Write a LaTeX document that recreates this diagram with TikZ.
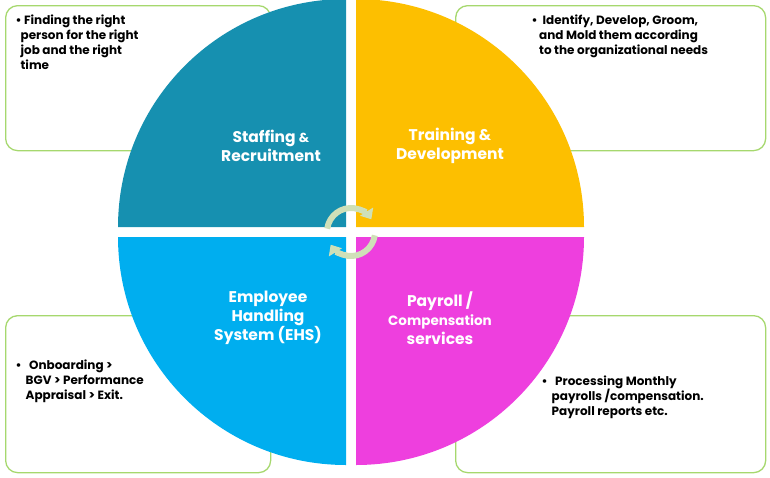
\documentclass[tikz,border=0pt]{standalone}
\usepackage{fontspec}
\setmainfont{Poppins}
\usetikzlibrary{arrows.meta}
\begin{document}
\begin{tikzpicture}[x=1pt,y=1pt,
  box/.style={draw=bordergreen, fill=white, line width=1.3pt, rounded corners=12pt},
  title/.style={text=white, font=\bfseries\fontsize{15.5}{19}\selectfont, align=center},
  txt/.style={font=\bfseries\fontsize{12}{15}\selectfont, align=left, anchor=north west},
  cyc/.style={draw=cycgreen, line width=6pt, -{Triangle[length=9pt,width=15pt]}}]
\definecolor{bordergreen}{HTML}{A6D86E}
\definecolor{cycgreen}{HTML}{CFE0B8}
\useasboundingbox (0,0) rectangle (770,-477);
\node[box, minimum width=265pt, minimum height=145pt, anchor=north west] (b1) at (5,-5) {};
\node[box, minimum width=310pt, minimum height=145pt, anchor=north west] (b2) at (455,-5) {};
\node[box, minimum width=265pt, minimum height=157pt, anchor=north west] (b3) at (5,-315) {};
\node[box, minimum width=310pt, minimum height=157pt, anchor=north west] (b4) at (455,-315) {};
\definecolor{qa}{HTML}{1690B0}\definecolor{qb}{HTML}{FDBF00}
\definecolor{qc}{HTML}{00AEEF}\definecolor{qd}{HTML}{EE3FDE}
\fill[qa] (346,-227) -- (118,-227) arc[start angle=180,end angle=90,radius=228] -- cycle;
\fill[qb] (356,-227) -- (356,1) arc[start angle=90,end angle=0,radius=228] -- cycle;
\fill[qc] (346,-237) -- (346,-465) arc[start angle=270,end angle=180,radius=228] -- cycle;
\fill[qd] (356,-237) -- (584,-237) arc[start angle=0,end angle=-90,radius=228] -- cycle;
\node[title] (t1) at (271,-146) {Staffing {\fontsize{13}{15}\selectfont\&}\\Recruitment};
\node[title] (t2) at (450,-146) {Training \&\\Development};
\node[title] (t3) at (268,-318) {Employee\\Handling\\System (EHS)};
\node[title] (t4) at (440,-318) {Payroll /\\{\fontsize{13.5}{16}\selectfont Compensation}\\services};
\node[txt] (x1) at (12,-11) {• Finding the right\\\ \ person for the right\\\ \ job and the right\\\ \ time};
\node[txt] (x2) at (528,-11) {• \ Identify, Develop, Groom,\\\ \ \ and Mold them according\\\ \ \ to the organizational needs};
\node[txt] (x3) at (12,-356) {•\ \ \ Onboarding >\\\ \ \ \ BGV > Performance\\\ \ \ \ Appraisal > Exit.};
\node[txt] (x4) at (538,-372) {•\ \ \ Processing Monthly\\\ \ \ \ payrolls /compensation.\\\ \ \ \ Payroll reports etc.};
\coordinate (ac) at (351,-232);
\draw[cyc] ([shift={(172:24)}]ac) arc[start angle=172,end angle=32,radius=24];
\draw[cyc] ([shift={(-8:24)}]ac) arc[start angle=-8,end angle=-148,radius=24];
\end{tikzpicture}
\end{document}
